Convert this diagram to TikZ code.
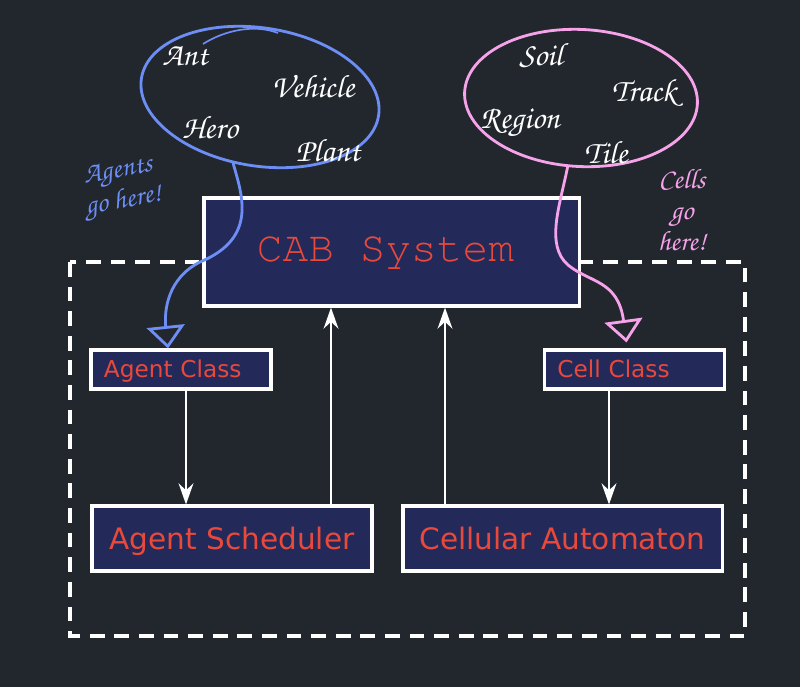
\documentclass[tikz,border=0pt]{standalone}
\usepackage[T1]{fontenc}
\usepackage{fontspec}
\setmainfont{DejaVu Sans}
\newcommand\scribble{\fontencoding{T1}\fontfamily{pzc}\fontseries{mb}\fontshape{it}\selectfont}
\newcommand\typewriter{\fontencoding{T1}\fontfamily{pcr}\fontseries{m}\fontshape{n}\selectfont}
\usetikzlibrary{arrows.meta,calc,shapes.geometric}
\definecolor{slate}{HTML}{22272E}
\definecolor{navy}{HTML}{232A5A}
\definecolor{tomato}{HTML}{E9493B}
\definecolor{agentblue}{HTML}{6D8EF5}
\definecolor{cellpink}{HTML}{F7A3EA}

\begin{document}
\begin{tikzpicture}[x=0.025cm, y=-0.025cm,
  block/.style={draw=white, line width=2.2pt, fill=navy, text=tomato, inner sep=0pt},
  smallblock/.style={block, minimum height=0.975cm, text width=3.85cm, align=left,
    inner xsep=0.325cm, text height=13.2pt, text depth=1.2pt, font=\fontsize{16.5}{18}\selectfont},
  bigblock/.style={block, minimum height=1.625cm, text height=16.8pt, text depth=1.5pt,
    font=\fontsize{21}{24}\selectfont},
  flow/.style={draw=white, line width=2pt, -{Stealth[length=15pt,width=10.5pt,inset=5pt]}},
  word/.style={text=white, font=\scribble\fontsize{23}{24}\selectfont},
  hint/.style={align=center, font=\scribble\fontsize{20}{22}\selectfont},
  blob/.style={ellipse, draw, line width=2pt, inner sep=0pt},
  tail/.style={line width=2pt, line cap=round, -{Triangle[open,length=16pt,width=27pt]}}]
%\draw[style=help lines, step=50] (0,0) grid (800,687);

% canvas
\fill[slate] (0,0) rectangle (800,687);
\useasboundingbox (0,0) rectangle (800,687);

% frame
\draw[white, line width=2.2pt, dash pattern=on 10.5pt off 7pt] (70,262) rectangle (745,636);

% boxes
\node[block, minimum width=9.375cm, minimum height=2.7cm,
  font=\typewriter\fontsize{30.5}{32}\selectfont] (cab) at (391.5,252) {CAB System\kern0.3cm};
\node[smallblock, minimum width=4.5cm] (aclass) at (181,369.5) {Agent Class};
\node[smallblock, minimum width=4.475cm] (cclass) at (634.5,369.5) {Cell Class};
\node[bigblock, minimum width=7cm] (sched) at (232,538.5) {Agent Scheduler};
\node[bigblock, minimum width=7.975cm] (cauto) at (562.5,538.5) {Cellular Automaton};

% arrows
\coordinate (aout) at ($(aclass.south)+(5,0)$);
\coordinate (cout) at ($(cclass.south)+(-25.5,0)$);
\coordinate (sout) at ($(sched.north)+(99,0)$);
\coordinate (uout) at ($(cauto.north)+(-117.5,0)$);
\draw[flow] (aout) -- (aout |- sched.north);
\draw[flow] (cout) -- (cout |- cauto.north);
\draw[flow] (sout) -- (sout |- cab.south);
\draw[flow] (uout) -- (uout |- cab.south);

% agents
\node[blob, draw=agentblue, minimum width=6cm, minimum height=3.45cm, rotate=-9] (agents) at (260,97) {};
\draw[agentblue, line width=1.2pt] (203,44) .. controls (225,30) and (255,24) .. (278,33);
	\node[word] (ant) at (185,56) {Ant};
	\node[word] (vehicle) at (313,86) {Vehicle};
	\node[word] (hero) at (210,127) {Hero};
	\node[word] (plant) at (328,150) {Plant};
\draw[tail, agentblue] (agents.257) .. controls (242,195) and (258,238) .. (200,262)
  .. controls (168,278) and (164,310) .. ($(aclass.north)+(-13,0)$);
\node[hint, text=agentblue, rotate=10] (agenthint) at (121,188) {Agents\\go here!};

% cells
\node[blob, draw=cellpink, minimum width=5.825cm, minimum height=3.425cm, rotate=-3] (cells) at (581,98) {};
	\node[word] (soil) at (541,55) {Soil};
	\node[word] (track) at (644,93) {Track};
	\node[word] (region) at (520,123) {Region};
	\node[word] (tile) at (606,152) {Tile};
\draw[tail, cellpink] (cells.262) .. controls (560,205) and (545,245) .. (568,265)
  .. controls (590,283) and (618,280) .. ($(cclass.north)+(-8,-6)$);
\node[hint, text=cellpink] (cellhint) at (682,210) {Cells\\go\\here!};
\end{tikzpicture}
\end{document}
